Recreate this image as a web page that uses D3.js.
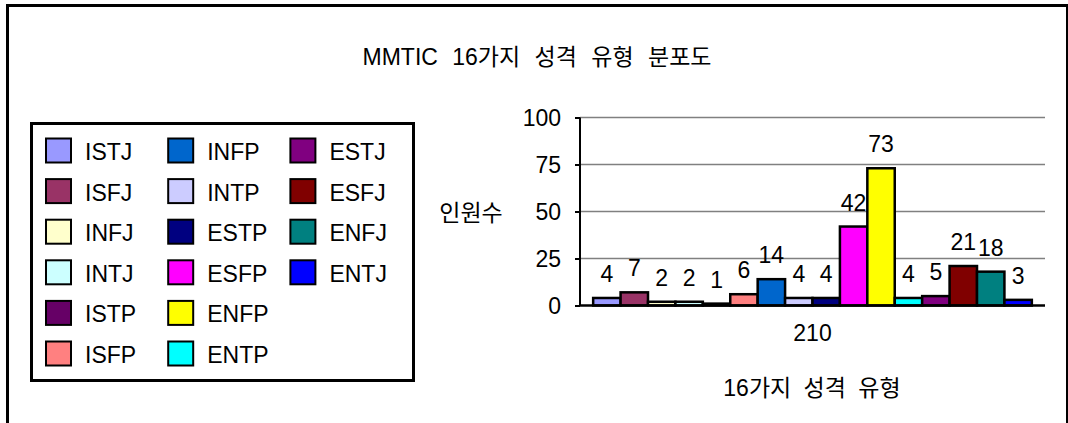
<!DOCTYPE html>
<html><head><meta charset="utf-8">
<script src="https://cdn.jsdelivr.net/npm/d3@7"></script>
<style>
html,body{margin:0;padding:0;background:#fff;}
svg{display:block;}
text{font-family:"Liberation Sans","Noto Sans CJK KR",sans-serif;fill:#000;}
</style></head>
<body>
<svg id="chart" width="1068" height="423"></svg>
<script>
const categories = ["210"];
const types = ["ISTJ","ISFJ","INFJ","INTJ","ISTP","ISFP","INFP","INTP","ESTP","ESFP","ENFP","ENTP","ESTJ","ESFJ","ENFJ","ENTJ"];
const counts = [4,7,2,2,1,6,14,4,4,42,73,4,5,21,18,3];
const colors = ["#9999FF","#993366","#FFFFCC","#CCFFFF","#660066","#FF8080","#0066CC","#CCCCFF","#000080","#FF00FF","#FFFF00","#00FFFF","#800080","#800000","#008080","#0000FF"];
const yTicks = [0,25,50,75,100];
const title = "MMTIC 16가지 성격 유형 분포도";
const yTitle = "인원수";
const xTitle = "16가지 성격 유형";

const svg = d3.select("#chart");

// outer frame
svg.append("rect").attr("x",7.5).attr("y",5.5).attr("width",1060).attr("height",440)
  .attr("fill","#fff").attr("stroke","#000").attr("stroke-width",3);

// title
svg.append("text").attr("x",537).attr("y",65).attr("text-anchor","middle")
  .attr("font-size",23).style("word-spacing","8px").text(title);

// scales
const plot = {left:580, right:1045, top:117.5, bottom:305.5};
const y = d3.scaleLinear().domain([0,100]).range([plot.bottom, plot.top]);
const x0 = d3.scaleBand().domain(categories).range([plot.left, plot.right]).paddingInner(0).paddingOuter(0.03);
const x1 = d3.scaleBand().domain(types).range([0, x0.bandwidth()]).padding(0);

// gridlines
svg.append("g").selectAll("line").data(yTicks.filter(t=>t>0)).join("line")
  .attr("x1",plot.left).attr("x2",plot.right)
  .attr("y1",d=>y(d)).attr("y2",d=>y(d))
  .attr("stroke","#808080").attr("stroke-width",1.5);

// y axis
const yAxis = svg.append("g").attr("transform",`translate(${plot.left},0)`)
  .call(d3.axisLeft(y).tickValues(yTicks).tickSize(5).tickPadding(14));
yAxis.select(".domain").attr("stroke","#000").attr("stroke-width",2).attr("d",`M0,${plot.top}V${plot.bottom}`);
yAxis.selectAll(".tick line").attr("stroke","#000").attr("stroke-width",2);
yAxis.selectAll(".tick text").attr("font-size",23).attr("font-family",null).attr("fill","#000").attr("dy","0.36em");

// bars
const g = svg.append("g");
const grp = g.selectAll("g").data(categories).join("g").attr("transform",d=>`translate(${x0(d)},0)`);
grp.selectAll("rect").data(types.map((t,i)=>({t,v:counts[i],c:colors[i]}))).join("rect")
  .attr("x",d=>x1(d.t)).attr("width",x1.bandwidth())
  .attr("y",d=>y(d.v)).attr("height",d=>y(0)-y(d.v))
  .attr("fill",d=>d.c).attr("stroke","#000").attr("stroke-width",2.5);
grp.selectAll("text").data(types.map((t,i)=>({t,v:counts[i]}))).join("text")
  .attr("x",d=>x1(d.t)+x1.bandwidth()/2).attr("y",d=>y(d.v)-16)
  .attr("text-anchor","middle").attr("font-size",23).text(d=>d.v);

// x axis
const xAxis = svg.append("g").attr("transform",`translate(0,${plot.bottom})`)
  .call(d3.axisBottom(x0).tickSize(0).tickPadding(19));
xAxis.select(".domain").attr("stroke","#000").attr("stroke-width",2.5).attr("d",`M${plot.left},0H${plot.right}`);
xAxis.selectAll(".tick text").attr("font-size",23).attr("font-family",null).attr("fill","#000");

// axis titles
svg.append("text").attr("x",471).attr("y",221).attr("text-anchor","middle").attr("font-size",23).text(yTitle);
svg.append("text").attr("x",812).attr("y",396).attr("text-anchor","middle").attr("font-size",23).style("word-spacing","6px").text(xTitle);

// legend
svg.append("rect").attr("x",31.5).attr("y",123.5).attr("width",382).attr("height",257)
  .attr("fill","#fff").attr("stroke","#000").attr("stroke-width",3);
const lg = svg.append("g").selectAll("g").data(types).join("g")
  .attr("transform",(d,i)=>`translate(${45+Math.floor(i/6)*122.2},${137.5+(i%6)*40.6})`);
lg.append("rect").attr("x",1).attr("y",1).attr("width",25).attr("height",24)
  .attr("fill",(d,i)=>colors[i]).attr("stroke","#000").attr("stroke-width",2);
lg.append("text").attr("x",40).attr("y",22.5).attr("font-size",23).text(d=>d);
</script>
</body></html>
